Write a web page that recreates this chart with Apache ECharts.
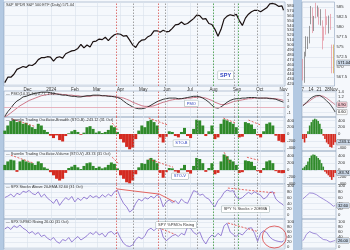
<!DOCTYPE html>
<html><head><meta charset="utf-8">
<script src="https://cdn.jsdelivr.net/npm/echarts@6/dist/echarts.min.js"></script>
<style>html,body{margin:0;padding:0;background:#b3c9e2;overflow:hidden}#c{width:350px;height:250px}</style>
</head><body><div id="c"></div>
<script>
// ---------- DATA ----------
const monthTicks = [30,61,92,121,152,182,213,243,274,305,335,366];
const monthLabels = ['Dec','2024','Feb','Mar','Apr','May','Jun','Jul','Aug','Sep','Oct','Nov'];
const priceLabels = [420,430,440,450,460,470,480,490,500,510,520,530,540,550,560,570,580];
const priceGrid = [420,440,460,480,500,520,540,560,580];
const pmoLabels = [-1,0,1,2];
const stoLabels = [-400,-200,0,200,400];
const pctLabels = [0,20,40,60,80,100];
const smallPriceLabels = [567.5,570,572.5,575,577.5,580,582.5,585];
const smallPmoLabels = [0.6,0.8,1.0,1.2,1.4];

const priceClose = [423,434,434,440,450,453,456,454,459,458,
 462,470,474,474,476,475,467,474,476,473,
 482,485,488,489,493,501,494,500,496,507,
 508,512,511,516,509,516,521,523,522,518,
 519,510,500,495,505,510,511,517,520,529,
 529,526,530,527,528,534,541,542,547,542,
 544,549,554,561,560,553,554,544,542,532,
 518,532,553,559,562,560,563,550,540,555,
 563,568,571,571,568,572,576,584,585,583,
 579,580,571];
const pmoLine = [-1.6,-0.8,-0.2,0.5,1.0,1.3,1.7,1.8,2.0,2.2,
 2.3,2.4,2.5,2.5,2.5,2.4,2.3,2.2,2.1,2.0,
 2.0,1.9,1.8,1.8,1.7,1.7,1.8,1.9,1.9,2.0,
 2.0,2.0,1.9,1.9,1.8,1.8,1.7,1.6,1.4,1.0,
 0.6,0.3,0.0,-0.2,-0.3,-0.3,-0.2,0.0,0.3,0.6,
 0.9,1.1,1.3,1.4,1.5,1.5,1.5,1.4,1.4,1.5,
 1.6,1.7,1.8,1.8,1.7,1.5,1.2,0.8,0.3,-0.1,
 -0.2,0.0,0.4,0.8,1.1,1.3,1.4,1.4,1.5,1.5,
 1.6,1.6,1.6,1.5,1.5,1.5,1.5,1.4,1.4,1.3,
 1.1,0.9,0.8];
const pmoSignal = [-1.7,-1.4,-1.0,-0.6,-0.2,0.2,0.5,0.8,1.1,1.3,
 1.5,1.7,1.9,2.0,2.1,2.2,2.2,2.2,2.2,2.1,
 2.1,2.0,2.0,1.9,1.9,1.8,1.8,1.8,1.8,1.9,
 1.9,1.9,1.9,1.9,1.9,1.8,1.8,1.7,1.6,1.5,
 1.3,1.1,0.8,0.6,0.4,0.2,0.1,0.1,0.1,0.2,
 0.4,0.6,0.8,0.9,1.1,1.2,1.3,1.3,1.4,1.4,
 1.5,1.5,1.6,1.6,1.7,1.6,1.5,1.3,1.1,0.8,
 0.6,0.4,0.4,0.5,0.7,0.9,1.0,1.1,1.2,1.3,
 1.4,1.4,1.5,1.5,1.5,1.5,1.5,1.5,1.4,1.4,
 1.3,1.2,1.1];
const stoB = [100,250,380,420,350,380,300,330,260,200,
 150,300,250,120,60,-50,-120,-40,-180,-220,
 -60,20,80,120,60,-20,40,200,230,150,
 40,80,30,60,120,250,200,60,-150,-250,
 -380,-450,-400,-150,100,250,200,380,420,350,
 250,-100,-250,-80,80,60,-60,-100,60,180,
 -60,-120,150,420,400,250,-60,80,250,-150,
 -100,300,430,400,350,300,200,-100,-80,350,
 320,280,150,-40,-100,80,300,340,250,-50,
 -200,-240,-243];
const stoV = [150,250,300,280,-50,250,300,250,220,200,
 150,250,200,80,40,-60,-150,-250,-300,-250,
 -80,60,100,150,80,30,120,200,220,120,
 60,100,50,80,150,220,180,50,-150,-250,
 -350,-380,-300,-120,80,200,180,300,350,300,
 200,-80,-220,-60,60,50,-40,-80,50,150,
 -50,-100,120,350,320,200,-50,60,200,-120,
 -80,250,450,400,300,250,150,-80,-60,280,
 260,240,120,-30,-80,60,250,280,200,-30,
 -80,-90,-84];
const above20 = [60,65,72,62,75,70,82,78,85,74,
 70,80,62,72,58,50,40,55,33,48,
 60,52,64,45,58,50,62,55,68,60,
 66,58,70,62,72,65,80,86,60,40,
 28,10,18,40,55,48,60,55,65,58,
 70,60,28,45,52,42,50,38,55,45,
 40,62,84,80,68,72,60,55,40,28,
 50,60,78,86,82,84,62,55,60,70,
 78,72,80,74,68,55,62,78,80,55,
 45,38,33];
const pmoRising = [72,80,70,85,78,88,75,68,55,62,
 50,58,42,48,35,28,38,22,15,30,
 25,38,20,32,42,28,36,45,58,50,
 62,48,55,40,58,62,50,60,35,15,
 5,2,8,30,40,32,45,68,75,65,
 78,82,40,25,35,45,50,42,55,48,
 80,75,58,50,60,30,12,35,48,40,
 55,45,85,95,60,50,42,55,48,62,
 75,77,55,22,55,65,58,40,30,25,
 22,20,26];
// calendar day offsets from 2023-11-01 of each sample
const sampleDays = priceClose.map((_, i) => i < 92 ? i * 4 : 366);

// Small panel: Oct 7 - Nov 1 2024 daily
const octDays = ['7','8','9','10','11','14','15','16','17','18','21','22','23','24','25','28','29','30','31','Nov'];
const octOHLC = [[571.3,567.8,566.6,572.0],[568.4,573.2,566.0,573.8],[573.2,577.1,572.6,577.7],[575.8,576.1,574.5,577.6],[576.1,579.6,575.9,580.3],[581.2,584.3,580.7,585.3],[584.6,579.8,578.5,584.9],[579.8,582.3,579.0,582.8],[585.9,582.4,582.2,586.1],[584.1,584.6,582.6,585.4],[583.9,583.6,580.6,584.9],[581.1,583.3,580.4,584.5],[581.3,578.0,574.4,581.7],[580.0,579.2,576.6,580.1],[581.5,579.0,578.1,584.5],[582.6,580.8,580.5,582.7],[579.9,581.8,578.4,582.9],[581.3,580.0,579.3,583.3],[575.6,568.6,568.4,575.6],[571.3,571.0,568.4,575.6]];
const octPmo = [0.85,0.9,0.98,1.05,1.12,1.18,1.22,1.25,1.27,1.28,1.27,1.24,1.18,1.12,1.05,0.98,0.92,0.85,0.72,0.60];
const octPmoSig = [0.88,0.9,0.95,1.0,1.05,1.1,1.15,1.2,1.23,1.25,1.26,1.26,1.24,1.2,1.16,1.11,1.06,1.01,0.95,0.90];
const octStoB = [-150,-250,-120,80,250,350,420,450,430,380,300,150,-50,-150,-250,-300,-380,-400,-320,-243];
const octStoV = [50,100,150,250,350,420,450,440,400,350,300,200,100,-50,-100,-150,-200,-280,-200,-84];
const octAbove = [55,60,66,72,76,78,75,72,70,68,62,58,55,52,48,44,40,36,30,33];
const octPmoRising = [25,35,50,58,62,60,55,58,52,45,40,35,30,32,28,22,20,18,24,26];

// event markers (calendar day offsets) and annotation trend lines
const eventDays = [147,169,202,211,253,274,301,307,332];
const eventColors = ['#d9534f','#8a8a8a','#d9534f','#8a8a8a','#8a8a8a','#3a9a3a','#8a8a8a','#3a9a3a','#8a8a8a'];
const stoBTrends = [[[10,440],[40,220]],[[141,324],[149,118]],[[189,470],[214,265]],[[287,470],[303,324]],[[320,410],[336,265]]];
const stoVTrends = [[[8,430],[38,200]],[[141,370],[149,200]],[[189,315],[221,85]],[[288,515],[296,200]],[[318,370],[333,285]]];
const aboveTrends = [[[147,90],[203,72],[223,45]],[[293,93],[355,76]]];
const risingTrends = [[[202,77],[224,50]],[[293,96],[332,62]]];

// ---------- CHART ----------
const chart = echarts.init(document.getElementById('c'));
const panels = [{top:2,h:84},{top:91,h:26},{top:117,h:34},{top:151,h:33},{top:184,h:35},{top:219,h:30}];
const yCfg = [
  {min:416,max:588,labels:priceLabels,ticks:priceGrid},
  {min:-1.7,max:2.7,labels:pmoLabels,ticks:pmoLabels},
  {min:-500,max:500,labels:stoLabels,ticks:stoLabels},
  {min:-400,max:550,labels:stoLabels,ticks:stoLabels},
  {min:-14,max:107,labels:pctLabels,ticks:pctLabels},
  {min:-8,max:112,labels:pctLabels,ticks:pctLabels}
];
const ySmall = [
  {min:565.2,max:586.3,labels:smallPriceLabels,ticks:smallPriceLabels},
  {min:0.4,max:1.45,labels:smallPmoLabels,ticks:smallPmoLabels},
  yCfg[2],yCfg[3],yCfg[4],yCfg[5]
];
const grids=[],xAxes=[],yAxes=[],series=[];
const txt = {fontSize:4.5,color:'#333',fontFamily:'Liberation Sans'};
panels.forEach((p,i)=>{
  grids.push({left:4,width:281,top:p.top,height:p.h,show:true,borderColor:'#8ea3bd',borderWidth:0.6,backgroundColor:'transparent'});
});
panels.forEach((p,i)=>{
  grids.push({left:302,width:34,top:p.top,height:p.h,show:true,borderColor:'#8ea3bd',borderWidth:0.6,backgroundColor:'transparent'});
});
panels.forEach((p,i)=>{
  xAxes.push({type:'value',gridIndex:i,min:-1,max:368,axisLine:{show:false},
    axisTick:{show:false,customValues:monthTicks},
    splitLine:{show:true,lineStyle:{color:'#d8e0eb',width:0.6}},
    axisLabel:{show:i===0,customValues:monthTicks,margin:1.5,...txt,formatter:v=>monthLabels[monthTicks.indexOf(Math.round(v))]||''}});
  const c=yCfg[i];
  yAxes.push({type:'value',gridIndex:i,position:'right',min:c.min,max:c.max,axisLine:{show:false},
    axisTick:{show:false,customValues:c.ticks},
    splitLine:{show:true,lineStyle:{color:'#d8e0eb',width:0.6}},
    axisLabel:{customValues:c.labels,margin:2,...txt,fontSize:4.2}});
});
panels.forEach((p,i)=>{
  xAxes.push({type:'category',gridIndex:6+i,data:octDays,boundaryGap:true,axisLine:{show:false},axisTick:{show:false},
    splitLine:{show:false},
    axisLabel:{show:i===0,margin:1.5,...txt,interval:(idx)=>[0,5,10,15,19].includes(idx)}});
  const c=ySmall[i];
  yAxes.push({type:'value',gridIndex:6+i,position:'right',min:c.min,max:c.max,axisLine:{show:false},
    axisTick:{show:false,customValues:c.ticks},
    splitLine:{show:true,lineStyle:{color:'#d8e0eb',width:0.6}},
    axisLabel:{customValues:c.labels,margin:2,...txt,fontSize:4.2}});
});
const zip=(arr)=>arr.map((v,i)=>[sampleDays[i],v]);
const evMark = {silent:true,symbol:'none',label:{show:false},animation:false,
  lineStyle:{type:[1.5,1.5],width:0.8},
  data:eventDays.map((d,k)=>({xAxis:d,lineStyle:{color:eventColors[k]}}))};
const lineS=(i,data,color,w,extra)=>Object.assign({type:'line',xAxisIndex:i,yAxisIndex:i,data,symbol:'none',
  lineStyle:{color,width:w},itemStyle:{color},animation:false,silent:true},extra||{});
series.push(lineS(0,zip(priceClose),'#1a1010',1.2,{markLine:evMark,z:4}));
series.push(lineS(1,zip(pmoSignal),'#c86a7c',0.9));
series.push(lineS(1,zip(pmoLine),'#222',0.9,{markLine:{silent:true,symbol:'none',label:{show:false},animation:false,
  data:[{yAxis:0,lineStyle:{color:'#e6a3b0',width:0.8,type:'solid'}}].concat(evMark.data.map(d=>Object.assign({},d,{lineStyle:Object.assign({type:[1.5,1.5],width:0.8},d.lineStyle)})))}}));
const sign=(p)=>p.value[1]>=0?'#2f8a2a':'#d42a20';
series.push({type:'bar',xAxisIndex:2,yAxisIndex:2,data:zip(stoB),barWidth:3,itemStyle:{color:sign},animation:false,silent:true,markLine:evMark});
series.push({type:'bar',xAxisIndex:3,yAxisIndex:3,data:zip(stoV),barWidth:3,itemStyle:{color:sign},animation:false,silent:true,markLine:evMark});
series.push(lineS(4,zip(above20),'#8c74d0',0.9,{markLine:evMark}));
series.push(lineS(5,zip(pmoRising),'#8c74d0',0.9,{markLine:evMark}));
const trend=(i,pts,dashed)=>lineS(i,pts,'#e0403a',0.8,{lineStyle:{color:'#e0403a',width:0.8,type:dashed?[2,1.5]:'solid'},z:5});
stoBTrends.forEach(t=>series.push(trend(2,t,true)));
stoVTrends.forEach(t=>series.push(trend(3,t,true)));
series.push(trend(4,aboveTrends[0],false));series.push(trend(4,aboveTrends[1],true));
risingTrends.forEach(t=>series.push(trend(5,t,true)));
// red circle annotation
series.push({type:'scatter',xAxisIndex:5,yAxisIndex:5,data:[[354,40]],symbolSize:[24,22],
  itemStyle:{color:'rgba(0,0,0,0)',borderColor:'#d83030',borderWidth:0.9},animation:false,silent:true,z:6});
// small panels
series.push({type:'candlestick',xAxisIndex:6,yAxisIndex:6,data:octOHLC.map((d,k)=>k===19?{value:d,itemStyle:{color:'#e0a030',color0:'#e0a030',borderColor:'#d09020',borderColor0:'#d09020'}}:d),
  barWidth:1.2,itemStyle:{color:'#555',color0:'#e07a8a',borderColor:'#555',borderColor0:'#e07a8a',borderWidth:0.6},animation:false,silent:true});
series.push(lineS(7,octPmoSig,'#c86a7c',0.8));
series.push(lineS(7,octPmo,'#222',0.8));
const signS=(p)=>p.value>=0?'#2f8a2a':'#d42a20';
series.push({type:'bar',xAxisIndex:8,yAxisIndex:8,data:octStoB,barWidth:1.6,itemStyle:{color:signS},animation:false,silent:true});
series.push({type:'bar',xAxisIndex:9,yAxisIndex:9,data:octStoV,barWidth:1.6,itemStyle:{color:signS},animation:false,silent:true});
series.push(lineS(10,octAbove,'#8c74d0',0.8));
series.push(lineS(11,octPmoRising,'#8c74d0',0.8));

const bg = [
  {type:'rect',id:'bg1',shape:{x:4,y:0,width:289,height:250},style:{fill:'#f5f8fc'},z:-10},
  {type:'rect',id:'bg2',shape:{x:302,y:0,width:48,height:250},style:{fill:'#f5f8fc'},z:-10}
];
chart.setOption({animation:false,grid:grids,xAxis:xAxes,yAxis:yAxes,series,graphic:{elements:bg}});

// ---------- text annotations placed via axes ----------
const els=[];
const titles=['S&P SPDR S&P 500 ETF (Daily) 571.04','— PMO(10,35,10) 0.77, 1.12','— Swenlin Trading Oscillator-Breadth (STO-B) -243.12 (31 Oct)',
 '— Swenlin Trading Oscillator-Volume (STO-V) -83.74 (31 Oct)','— SPX Stocks Above 20-EMA 32.60 (31 Oct)','— SPX %PMO Rising 26.00 (31 Oct)'];
panels.forEach((p,i)=>els.push({type:'text',id:'t'+i,x:6,y:p.top+0.8,style:{text:titles[i],fontSize:3.8,fill:'#333',fontFamily:'Liberation Sans'},z:20}));
function box(id,gi,x,y,text,color,bold){
  const pt=chart.convertToPixel({xAxisIndex:gi,yAxisIndex:gi},[x,y]);
  els.push({type:'text',id,x:pt[0],y:pt[1],style:{text,fontSize:bold?5.5:4,fontWeight:bold?'bold':'normal',fill:color,fontFamily:'Liberation Sans',
    backgroundColor:'#fff',borderColor:'#9aa',borderWidth:0.5,padding:[1,2],align:'center',verticalAlign:'middle'},z:20});
}
box('b0',0,290,438,'SPY','#2a3fbf',true);
box('b1',1,245,0.6,'PMO','#2a3fbf',false);
box('b2',2,232,-270,'STO-B','#2a3fbf',false);
box('b3',3,230,-180,'STO-V','#2a3fbf',false);
box('b4',4,316,20,'SPY % Stocks > 20EMA','#333',false);
box('b5',5,225,88,'SPY %PMOs Rising','#333',false);
function tag(id,gi,v,text,fill){
  const y=chart.convertToPixel({yAxisIndex:gi},v);
  els.push({type:'text',id,x:337,y,style:{text,fontSize:4,fill:'#000',backgroundColor:fill,borderColor:'#777',borderWidth:0.4,padding:[0.5,1],verticalAlign:'middle',fontFamily:'Liberation Sans'},z:20});
}
tag('g0',6,571.04,'571.04','#c9d6e6');
tag('g1a',7,0.90,'0.90','#f2c6cf');
tag('g1b',7,0.60,'0.60','#ffffff');
tag('g2',8,-243,'-243.12','#c9d6e6');
tag('g3',9,-84,'-83.74','#c9d6e6');
tag('g4',10,32.6,'32.60','#c9d6e6');
tag('g5',11,26,'26.00','#c9d6e6');
chart.setOption({graphic:{elements:els}});
</script></body></html>
